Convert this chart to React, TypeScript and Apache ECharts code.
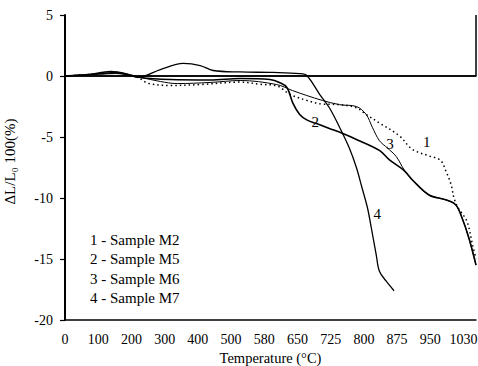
import React, { useEffect, useRef } from "react";
import * as echarts from "echarts";

// X axis: evenly spaced tick labels (temperatures, °C)
const tickTemps = [0, 100, 200, 300, 400, 500, 580, 650, 725, 800, 875, 950, 1030];
const xTickLabels = ["0", "100", "200", "300", "400", "500", "580", "650", "725", "800", "875", "950", "1030"];
const X_END_TEMP = 1060;

const seriesNames = ["Sample M2", "Sample M5", "Sample M6", "Sample M7"];

// [temperature °C, ΔL/L0·100 (%)]
const sampleM2: [number, number][] = [
  [0, 0], [60, 0.1], [110, 0.2], [150, 0.25], [200, 0.05], [228, -0.25], [250, -0.6], [317, -0.78],
  [407, -0.7], [522, -0.5], [570, -0.68], [606, -0.8], [634, -1.5], [671, -2.0], [706, -2.3],
  [745, -2.35], [783, -2.6], [805, -3.15], [835, -3.85], [880, -4.9], [909, -6.0], [947, -6.55],
  [974, -6.9], [987, -7.75], [1000, -8.9], [1007, -10.0], [1017, -10.8], [1038, -11.9], [1052, -13.9],
  [1060, -15.0],
];
const sampleM5: [number, number][] = [
  [0, 0], [60, 0.1], [108, 0.2], [153, 0.28], [228, -0.12], [317, -0.29], [437, -0.33], [522, -0.2],
  [592, -0.29], [613, -0.55], [628, -0.95], [640, -2.2], [655, -3.15], [671, -3.6], [693, -3.9],
  [722, -4.3], [751, -4.7], [783, -5.2], [835, -6.1], [857, -6.85], [891, -7.75], [909, -8.5],
  [947, -9.75], [987, -10.15], [1011, -10.55], [1026, -11.6], [1043, -13.3], [1060, -15.5],
];
const sampleM6: [number, number][] = [
  [0, 0], [60, 0.1], [108, 0.15], [153, 0.2], [228, -0.12], [287, -0.45], [338, -0.62], [437, -0.53],
  [522, -0.37], [606, -0.7], [640, -1.2], [671, -1.6], [706, -2.0], [745, -2.35], [783, -2.5],
  [805, -3.15], [819, -4.2], [835, -5.3], [853, -5.9], [873, -6.6], [891, -7.7], [909, -8.5],
  [947, -9.75], [987, -10.15], [1011, -10.55], [1026, -11.6], [1043, -13.3], [1060, -15.5],
];
const sampleM7: [number, number][] = [
  [0, 0], [69, 0.12], [138, 0.37], [183, 0.2], [219, -0.12], [287, 0.53], [356, 1.03], [407, 0.86],
  [446, 0.45], [522, 0.33], [598, 0.29], [655, 0.2], [671, 0.04], [700, -1.5], [722, -2.6],
  [745, -4.2], [767, -5.9], [783, -7.5], [796, -9.2], [808, -10.8], [817, -12.5], [828, -14.7],
  [835, -16.0], [850, -16.8], [868, -17.6],
];

// curve number labels placed on the plot: [temperature, value]
const curveLabelPos: [number, number][] = [[942, -5.4], [690, -3.8], [859, -5.55], [830, -11.3]];

const Y_MIN = -20;
const Y_MAX = 5;

function tempToPos(t: number): number {
  const n = tickTemps.length;
  for (let i = 0; i < n - 1; i++) {
    if (t <= tickTemps[i + 1]) {
      return i + (t - tickTemps[i]) / (tickTemps[i + 1] - tickTemps[i]);
    }
  }
  return n - 1 + (t - tickTemps[n - 1]) / (tickTemps[n - 1] - tickTemps[n - 2]);
}

const FONT = "Liberation Serif";

export default function App() {
  const ref = useRef<HTMLDivElement>(null);
  useEffect(() => {
    if (!ref.current) return;
    const chart = echarts.init(ref.current, undefined, { renderer: "svg" });
    const XMAX = tempToPos(X_END_TEMP);
    const all = [sampleM2, sampleM5, sampleM6, sampleM7];
    const styles = [
      { width: 1.5, type: [1.5, 3] as any },
      { width: 1.6, type: "solid" },
      { width: 1, type: "solid" },
      { width: 1.3, type: "solid" },
    ];
    const series: any[] = all.map((d, i) => ({
      name: seriesNames[i],
      type: "line",
      data: d.map(([t, v]) => [tempToPos(t), v]),
      showSymbol: false,
      smooth: 0.35,
      lineStyle: { color: "#000", width: styles[i].width, type: styles[i].type },
      itemStyle: { color: "#000" },
      markPoint: {
        symbol: "circle",
        symbolSize: 1,
        itemStyle: { color: "rgba(0,0,0,0)" },
        label: {
          show: true,
          position: "inside",
          formatter: String(i + 1),
          color: "#000",
          fontFamily: FONT,
          fontSize: 15,
        },
        data: [{ coord: [tempToPos(curveLabelPos[i][0]), curveLabelPos[i][1]] }],
      },
    }));
    series[3].markLine = {
      symbol: "none",
      silent: true,
      label: { show: false },
      lineStyle: { color: "#000", width: 1.5, type: "solid" },
      data: [
        { yAxis: 0 },
        [{ coord: [XMAX, 0] }, { coord: [XMAX, Y_MAX] }],
      ],
    };
    chart.setOption({
      animation: false,
      backgroundColor: "#fff",
      grid: { left: 65, right: 2, top: 15, bottom: 46, containLabel: false, outerBoundsMode: "none" },
      legend: {
        data: seriesNames,
        orient: "vertical",
        left: 80,
        top: 225,
        icon: "rect",
        itemWidth: 0,
        itemHeight: 0,
        itemGap: 0,
        formatter: (name: string) => `${seriesNames.indexOf(name) + 1} - ${name}`,
        textStyle: { color: "#000", fontFamily: FONT, fontSize: 15, lineHeight: 19.5 },
        selectedMode: false,
      },
      xAxis: [
        {
          type: "value",
          min: 0,
          max: XMAX,
          interval: 1,
          name: "Temperature (°C)",
          nameLocation: "middle",
          nameGap: 29,
          nameTextStyle: { color: "#000", fontFamily: FONT, fontSize: 14.5 },
          axisLine: { show: true, onZero: false, lineStyle: { color: "#000", width: 1.5 } },
          axisTick: { show: false },
          splitLine: { show: false },
          axisLabel: {
            color: "#000",
            fontFamily: FONT,
            fontSize: 14,
            margin: 12,
            showMaxLabel: false,
            formatter: (v: number) => {
              const i = Math.round(v);
              return Math.abs(v - i) < 1e-6 && i < xTickLabels.length ? xTickLabels[i] : "";
            },
          },
        },
        {
          type: "value",
          position: "top",
          min: 0,
          max: XMAX,
          axisLine: { show: true, lineStyle: { color: "#000", width: 1.5 } },
          axisTick: { show: false },
          axisLabel: { show: false },
          splitLine: { show: false },
        },
      ],
      yAxis: {
        type: "value",
        min: Y_MIN,
        max: Y_MAX,
        interval: 5,
        name: "ΔL/L₀ 100(%)",
        nameLocation: "middle",
        nameGap: 48,
        nameTextStyle: { color: "#000", fontFamily: FONT, fontSize: 15, padding: [0, 0, 0, 12] },
        axisLine: { show: true, onZero: false, lineStyle: { color: "#000", width: 2 } },
        axisTick: { show: true, inside: false, length: 5, lineStyle: { color: "#000", width: 1.2 } },
        splitLine: { show: false },
        axisLabel: { color: "#000", fontFamily: FONT, fontSize: 14, margin: 12 },
      },
      series,
    });
    return () => chart.dispose();
  }, []);
  return (
    <div
      ref={ref}
      style={{ position: "fixed", left: 0, top: 0, width: 478, height: 366, background: "#fff" }}
    />
  );
}
